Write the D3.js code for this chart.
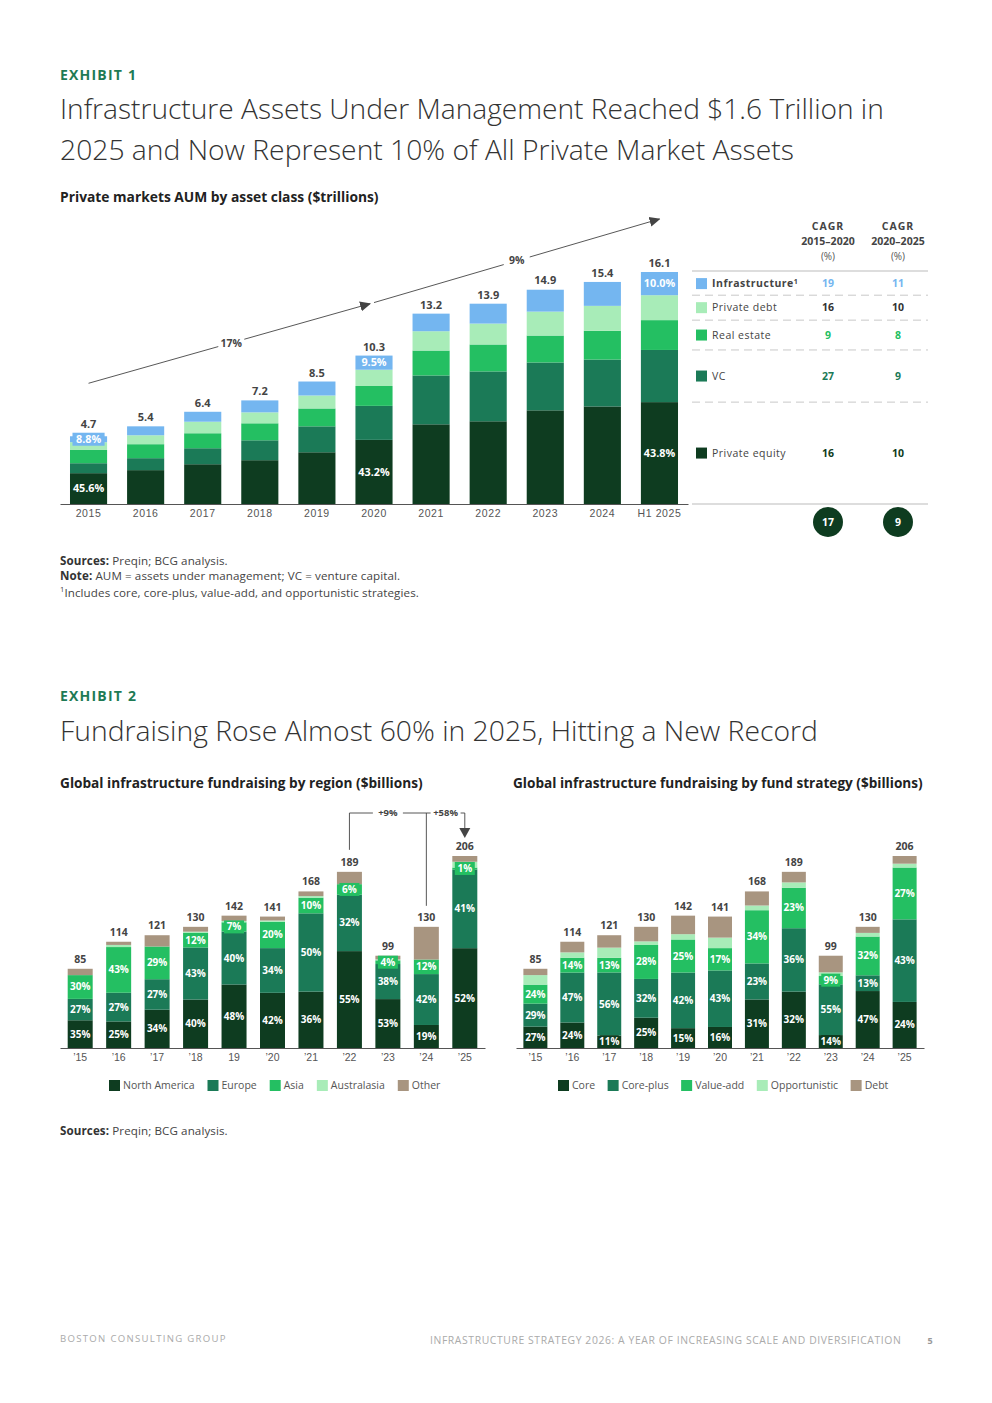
<!DOCTYPE html>
<html>
<head>
<meta charset="utf-8">
<script src="https://cdn.jsdelivr.net/npm/d3@7"></script>
<style>
    body { margin: 0; background: #fff; }
    svg { display: block; font-family: "Open Sans", "Noto Sans", sans-serif; }
</style>
</head>
<body>
<div id="page"></div>
<script>
// ---------- Exhibit 1: private markets AUM ($T) ----------
const aumYears = ['2015', '2016', '2017', '2018', '2019', '2020', '2021', '2022', '2023', '2024', 'H1 2025'];
const aumTotals = [4.7, 5.4, 6.4, 7.2, 8.5, 10.3, 13.2, 13.9, 14.9, 15.4, 16.1];
const aumPrivateEquity = [2.14, 2.35, 2.76, 3.04, 3.59, 4.45, 5.53, 5.74, 6.50, 6.77, 7.07];
const aumVC = [0.69, 0.83, 1.11, 1.38, 1.80, 2.36, 3.39, 3.46, 3.32, 3.25, 3.62];
const aumRealEstate = [0.92, 0.97, 1.04, 1.18, 1.24, 1.38, 1.73, 1.87, 1.87, 2.00, 2.07];
const aumPrivateDebt = [0.54, 0.62, 0.80, 0.76, 0.90, 1.13, 1.34, 1.45, 1.66, 1.73, 1.73];
const aumInfrastructure = [0.41, 0.62, 0.69, 0.83, 0.97, 0.98, 1.22, 1.38, 1.52, 1.66, 1.61];
const infraShareLabels = ['8.8%', null, null, null, null, '9.5%', null, null, null, null, '10.0%'];
const peShareLabels = ['45.6%', null, null, null, null, '43.2%', null, null, null, null, '43.8%'];
const aumGrowthLabels = ['17%', '9%'];

const cagrClasses = ['Infrastructure', 'Private debt', 'Real estate', 'VC', 'Private equity'];
const cagr2015to2020 = [19, 16, 9, 27, 16];
const cagr2020to2025 = [11, 10, 8, 9, 10];
const cagrTotals = [17, 9];

// ---------- Exhibit 2: fundraising ($B) ----------
const fundTicksRegion = ['\u201915', '\u201916', '\u201917', '\u201918', '19', '\u201920', '\u201921', '\u201922', '\u201923', '\u201924', '\u201925'];
const fundTicksStrategy = ['\u201915', '\u201916', '\u201917', '\u201918', '\u201919', '\u201920', '\u201921', '\u201922', '\u201923', '\u201924', '\u201925'];
const fundTotals = [85, 114, 121, 130, 142, 141, 168, 189, 99, 130, 206];

// share of each year's total, %
const regionNorthAmerica = [35, 25, 34, 40, 48, 42, 36, 55, 53, 19, 52];
const regionEurope = [27, 27, 27, 43, 40, 34, 50, 32, 38, 42, 41];
const regionAsia = [30, 43, 29, 12, 7, 20, 10, 6, 4, 12, 1];
const regionAustralasia = [0, 2, 0, 1, 1, 1, 1, 0, 1, 0, 3];
const regionOther = [8, 3, 10, 4, 4, 3, 3, 7, 4, 27, 3];

const strategyCore = [27, 24, 11, 25, 15, 16, 31, 32, 14, 47, 24];
const strategyCorePlus = [29, 47, 56, 32, 42, 43, 23, 36, 55, 13, 43];
const strategyValueAdd = [24, 14, 13, 28, 25, 17, 34, 23, 9, 32, 27];
const strategyOpportunistic = [12, 5, 9, 3, 4, 8, 3, 3, 4, 3, 2];
const strategyDebt = [8, 10, 11, 12, 14, 16, 9, 6, 18, 5, 4];
const fundGrowthLabels = ['+9%', '+58%'];

// colours
const C = {
    dark: '#0e3c20',
    mid: '#1b7a57',
    bright: '#24bf62',
    light: '#a8ecb8',
    blue: '#74b6f0',
    tan: '#a89580',
    green: '#1e7a55',
    text: '#333',
    grey: '#555'
};

const W = 992, H = 1403;
const svg = d3.select('#page').append('svg')
    .attr('width', W)
    .attr('height', H)
    .style('background', '#fff');

// scale font so a text spans a given width
const fitWidth = (sel, width) => {
    const w = sel.node().getComputedTextLength();
    const fs = parseFloat(sel.attr('font-size'));
    sel.attr('font-size', fs * width / w);
    return sel;
};

const addText = (x, y, txt, o = {}) => svg.append('text')
    .attr('x', x)
    .attr('y', y)
    .attr('font-size', o.size || 11)
    .attr('font-weight', o.weight || 400)
    .attr('fill', o.fill || C.text)
    .attr('text-anchor', o.anchor || 'start')
    .attr('letter-spacing', o.ls || 0)
    .text(txt);

const LABEL_BOX = 13; // min height of a label box on thin segments

// ================= Headers =================
addText(60, 80, 'EXHIBIT 1', { size: 14, weight: 700, fill: C.green, ls: 1.2 });
fitWidth(addText(60, 119, 'Infrastructure Assets Under Management Reached $1.6 Trillion in', { size: 27, weight: 300, fill: '#333' }), 824);
fitWidth(addText(60, 160, '2025 and Now Represent 10% of All Private Market Assets', { size: 27, weight: 300, fill: '#333' }), 734);
fitWidth(addText(60, 202, 'Private markets AUM by asset class ($trillions)', { size: 12.5, weight: 700, fill: '#222' }), 319);

// ================= Exhibit 1 chart =================
const x1 = d3.scaleBand()
    .domain(aumYears)
    .range([60, 688])
    .paddingInner(0.35)
    .paddingOuter(0.175);

const y1 = d3.scaleLinear()
    .domain([0, 16.1])
    .range([504, 272]);

const aumKeys = ['pe', 'vc', 're', 'pd', 'infra'];
const aumColors = { pe: C.dark, vc: C.mid, re: C.bright, pd: C.light, infra: C.blue };
const aumRows = aumYears.map((yr, i) => ({
    year: yr,
    pe: aumPrivateEquity[i],
    vc: aumVC[i],
    re: aumRealEstate[i],
    pd: aumPrivateDebt[i],
    infra: aumInfrastructure[i]
}));
const aumStack = d3.stack().keys(aumKeys)(aumRows);

const g1 = svg.append('g');
g1.selectAll('g.layer')
    .data(aumStack)
    .join('g')
    .attr('class', 'layer')
    .attr('fill', d => aumColors[d.key])
    .selectAll('rect')
    .data(d => d)
    .join('rect')
    .attr('x', d => x1(d.data.year))
    .attr('y', d => y1(d[1]))
    .attr('width', x1.bandwidth())
    .attr('height', d => y1(d[0]) - y1(d[1]));

// axis
const xAxis1 = svg.append('g')
    .attr('transform', 'translate(0,504)')
    .call(d3.axisBottom(x1).tickSize(0).tickPadding(6));
xAxis1.select('.domain').attr('stroke', '#555').attr('stroke-width', 1);
xAxis1.selectAll('text')
    .attr('font-size', 10.5)
    .attr('fill', C.grey)
    .attr('letter-spacing', 0.6)
    .attr('font-family', 'inherit');

// totals (lifted when a label box pokes above the bar)
svg.append('g').selectAll('text')
    .data(aumTotals)
    .join('text')
    .attr('x', (d, i) => x1(aumYears[i]) + x1.bandwidth() / 2)
    .attr('y', (d, i) => {
        const seg = aumStack[4][i];
        const h = y1(seg[0]) - y1(seg[1]);
        const lift = infraShareLabels[i] && h < LABEL_BOX ? (LABEL_BOX - h) / 2 : 0;
        return y1(d) - 5 - lift;
    })
    .attr('text-anchor', 'middle')
    .attr('font-size', 11)
    .attr('font-weight', 700)
    .attr('fill', '#444')
    .text(d => d.toFixed(1));

// in-bar share labels
const segLabel = (g, x, y0, y1v, bw, color, txt, size) => {
    const h = y0 - y1v;
    const cy = (y0 + y1v) / 2;
    if (h < LABEL_BOX) {
        g.append('rect')
            .attr('x', x + 2.5)
            .attr('y', cy - LABEL_BOX / 2)
            .attr('width', bw - 5)
            .attr('height', LABEL_BOX)
            .attr('fill', color);
    }
    g.append('text')
        .attr('x', x + bw / 2)
        .attr('y', cy)
        .attr('dy', '0.35em')
        .attr('text-anchor', 'middle')
        .attr('font-size', size)
        .attr('font-weight', 700)
        .attr('fill', '#fff')
        .text(txt);
};

const lab1 = svg.append('g');
aumRows.forEach((r, i) => {
    const infraLayer = aumStack[4][i];
    const peLayer = aumStack[0][i];
    if (infraShareLabels[i]) {
        segLabel(lab1, x1(r.year), y1(infraLayer[0]), y1(infraLayer[1]), x1.bandwidth(), C.blue, infraShareLabels[i], 10.8);
    }
    if (peShareLabels[i]) {
        segLabel(lab1, x1(r.year), y1(peLayer[0]), y1(peLayer[1]), x1.bandwidth(), C.dark, peShareLabels[i], 10.8);
    }
});

// growth arrows
const defs = svg.append('defs');
defs.append('marker')
    .attr('id', 'arr')
    .attr('viewBox', '0 0 10 10')
    .attr('refX', 9)
    .attr('refY', 5)
    .attr('markerWidth', 11)
    .attr('markerHeight', 11)
    .attr('markerUnits', 'userSpaceOnUse')
    .attr('orient', 'auto')
    .append('path')
    .attr('d', 'M0,0.5 L10,5 L0,9.5 Z')
    .attr('fill', '#444');

const cx1 = i => x1(aumYears[i]) + x1.bandwidth() / 2;
const arrowPts = [0, 5, 10].map(i => [cx1(i), y1(aumTotals[i]) - 53]);
const arrows = svg.append('g');
[[arrowPts[0], arrowPts[1]], [arrowPts[1], arrowPts[2]]].forEach((seg, k) => {
    arrows.append('line')
        .attr('x1', seg[0][0])
        .attr('y1', seg[0][1])
        .attr('x2', seg[1][0] - (k === 0 ? 4 : 0))
        .attr('y2', seg[1][1] + (k === 0 ? 1.1 : 0))
        .attr('stroke', '#444')
        .attr('stroke-width', 0.9)
        .attr('marker-end', 'url(#arr)');
    const mx = (seg[0][0] + seg[1][0]) / 2;
    const my = (seg[0][1] + seg[1][1]) / 2;
    arrows.append('rect')
        .attr('x', mx - 13)
        .attr('y', my - 8)
        .attr('width', 26)
        .attr('height', 16)
        .attr('fill', '#fff');
    arrows.append('text')
        .attr('x', mx)
        .attr('y', my)
        .attr('dy', '0.35em')
        .attr('text-anchor', 'middle')
        .attr('font-size', 10.5)
        .attr('font-weight', 700)
        .attr('fill', '#444')
        .text(aumGrowthLabels[k]);
});

// ---------- CAGR table ----------
const colX = [828, 898];
const tbl = svg.append('g');
['2015\u20132020', '2020\u20132025'].forEach((p, k) => {
    tbl.append('text').attr('x', colX[k]).attr('y', 230).attr('text-anchor', 'middle')
        .attr('font-size', 10.5).attr('font-weight', 700).attr('fill', '#444').attr('letter-spacing', 1).text('CAGR');
    tbl.append('text').attr('x', colX[k]).attr('y', 245).attr('text-anchor', 'middle')
        .attr('font-size', 10.5).attr('font-weight', 700).attr('fill', '#444').text(p);
    tbl.append('text').attr('x', colX[k]).attr('y', 260).attr('text-anchor', 'middle')
        .attr('font-size', 10).attr('fill', '#555').text('(%)');
});
tbl.append('line').attr('x1', 692).attr('x2', 928).attr('y1', 271).attr('y2', 271)
    .attr('stroke', '#bbb').attr('stroke-width', 1);

// rows line up with the segments of the last bar
const lastIdx = aumYears.length - 1;
const rowBands = [4, 3, 2, 1, 0].map(li => [y1(aumStack[li][lastIdx][1]), y1(aumStack[li][lastIdx][0])]);
const rowColors = [C.blue, C.light, C.bright, C.mid, C.dark];
const valColors = ['#74b6f0', '#333', '#24bf62', '#1b7a57', '#0e3c20'];
cagrClasses.forEach((name, r) => {
    const [top, bot] = rowBands[r];
    const cy = (top + bot) / 2;
    tbl.append('rect').attr('x', 696).attr('y', cy - 5.5).attr('width', 11).attr('height', 11).attr('fill', rowColors[r]);
    const t = tbl.append('text').attr('x', 712).attr('y', cy).attr('dy', '0.35em')
        .attr('font-size', 10.5).attr('fill', '#444').attr('letter-spacing', 0.5)
        .attr('font-weight', r === 0 ? 700 : 400).text(name);
    if (r === 0) t.append('tspan').attr('font-size', 7).attr('dy', '-0.5em').text('1');
    [cagr2015to2020[r], cagr2020to2025[r]].forEach((v, k) => {
        tbl.append('text').attr('x', colX[k]).attr('y', cy).attr('dy', '0.35em').attr('text-anchor', 'middle')
            .attr('font-size', 10.5).attr('font-weight', 700).attr('fill', valColors[r]).text(v);
    });
    if (r < cagrClasses.length - 1) {
        tbl.append('line').attr('x1', 692).attr('x2', 928).attr('y1', bot).attr('y2', bot)
            .attr('stroke', '#c8c8c8').attr('stroke-width', 1).attr('stroke-dasharray', '8,5');
    }
});
tbl.append('line').attr('x1', 692).attr('x2', 928).attr('y1', 504).attr('y2', 504)
    .attr('stroke', '#bbb').attr('stroke-width', 1);
cagrTotals.forEach((v, k) => {
    tbl.append('circle').attr('cx', colX[k]).attr('cy', 522).attr('r', 15).attr('fill', C.dark);
    tbl.append('text').attr('x', colX[k]).attr('y', 522).attr('dy', '0.35em').attr('text-anchor', 'middle')
        .attr('font-size', 10.5).attr('font-weight', 700).attr('fill', '#fff').text(v);
});

// notes
const noteSize = 11.6;
const note = (y, bold, rest) => {
    const t = addText(60, y, '', { size: noteSize, fill: '#444', ls: 0.1 });
    if (bold) t.append('tspan').attr('font-weight', 700).attr('fill', '#333').text(bold);
    t.append('tspan').text(rest);
    return t;
};
note(565, 'Sources: ', 'Preqin; BCG analysis.');
note(580, 'Note: ', 'AUM = assets under management; VC = venture capital.');
const fn = note(595, null, '');
fn.text('');
fn.append('tspan').attr('font-size', 7.5).attr('dy', '-0.4em').text('1');
fn.append('tspan').attr('dy', '0.4em').text('Includes core, core-plus, value-add, and opportunistic strategies.');

// ================= Exhibit 2 =================
addText(60, 701, 'EXHIBIT 2', { size: 14, weight: 700, fill: C.green, ls: 1.2 });
fitWidth(addText(60, 741, 'Fundraising Rose Almost 60% in 2025, Hitting a New Record', { size: 27, weight: 300, fill: '#333' }), 758);
fitWidth(addText(60, 788, 'Global infrastructure fundraising by region ($billions)', { size: 12.5, weight: 700, fill: '#222' }), 363);
fitWidth(addText(513, 788, 'Global infrastructure fundraising by fund strategy ($billions)', { size: 12.5, weight: 700, fill: '#222' }), 410);

const y2 = d3.scaleLinear().domain([0, 206]).range([1048, 856]);

const drawFundChart = (opts) => {
    const { range, ticks, keys, shares, colors, labelKeys, legend, legendX, legendGap } = opts;
    const x = d3.scaleBand()
        .domain(ticks)
        .range(range)
        .paddingInner(0.35)
        .paddingOuter(0.2);

    const rows = ticks.map((t, i) => {
        const o = { tick: t, total: fundTotals[i] };
        keys.forEach((k, j) => { o[k] = fundTotals[i] * shares[j][i] / 100; o[k + 'Pct'] = shares[j][i]; });
        return o;
    });
    const stack = d3.stack().keys(keys)(rows);
    const g = svg.append('g');

    g.selectAll('g.layer')
        .data(stack)
        .join('g')
        .attr('fill', (d, j) => colors[j])
        .selectAll('rect')
        .data(d => d)
        .join('rect')
        .attr('x', d => x(d.data.tick))
        .attr('y', d => y2(d[1]))
        .attr('width', x.bandwidth())
        .attr('height', d => y2(d[0]) - y2(d[1]));

    // share labels
    stack.forEach((layer, j) => {
        if (!labelKeys.includes(layer.key)) return;
        layer.forEach(d => {
            segLabel(g, x(d.data.tick), y2(d[0]), y2(d[1]), x.bandwidth(), colors[j], d.data[layer.key + 'Pct'] + '%', 10);
        });
    });

    // totals
    g.selectAll('text.total')
        .data(rows)
        .join('text')
        .attr('class', 'total')
        .attr('x', d => x(d.tick) + x.bandwidth() / 2)
        .attr('y', d => y2(d.total) - 6)
        .attr('text-anchor', 'middle')
        .attr('font-size', 10.5)
        .attr('font-weight', 700)
        .attr('fill', '#444')
        .text(d => d.total);

    const ax = svg.append('g')
        .attr('transform', 'translate(0,1048)')
        .call(d3.axisBottom(x).tickSize(0).tickPadding(6));
    ax.select('.domain').attr('stroke', '#555');
    ax.selectAll('text')
        .attr('font-size', 10.5)
        .attr('fill', C.grey)
        .attr('font-family', 'inherit');

    // legend
    let lx = legendX;
    legend.forEach((name, j) => {
        g.append('rect').attr('x', lx).attr('y', 1080).attr('width', 11).attr('height', 11).attr('fill', colors[j]);
        const t = g.append('text').attr('x', lx + 14).attr('y', 1089).attr('font-size', 10.5)
            .attr('fill', C.grey).attr('letter-spacing', 0).text(name);
        lx += 14 + t.node().getComputedTextLength() + legendGap;
    });
    return x;
};

const fiveColors = [C.dark, C.mid, C.bright, C.light, C.tan];

const xr = drawFundChart({
    range: [60, 485],
    ticks: fundTicksRegion,
    keys: ['na', 'eu', 'asia', 'aus', 'other'],
    shares: [regionNorthAmerica, regionEurope, regionAsia, regionAustralasia, regionOther],
    colors: fiveColors,
    labelKeys: ['na', 'eu', 'asia'],
    legend: ['North America', 'Europe', 'Asia', 'Australasia', 'Other'],
    legendX: 109,
    legendGap: 13
});

drawFundChart({
    range: [516, 924],
    ticks: fundTicksStrategy,
    keys: ['core', 'coreplus', 'va', 'opp', 'debt'],
    shares: [strategyCore, strategyCorePlus, strategyValueAdd, strategyOpportunistic, strategyDebt],
    colors: fiveColors,
    labelKeys: ['core', 'coreplus', 'va'],
    legend: ['Core', 'Core-plus', 'Value-add', 'Opportunistic', 'Debt'],
    legendX: 558,
    legendGap: 12.5
});

// growth connector on the region chart
const cxr = i => xr(fundTicksRegion[i]) + xr.bandwidth() / 2;
const topY = y2(fundTotals[10]) - 43;
const conn = svg.append('g').attr('stroke', '#444').attr('stroke-width', 0.9).attr('fill', 'none');
conn.append('path')
    .attr('d', `M${cxr(7)},${y2(fundTotals[7]) - 22} V${topY} H${cxr(10)} V${y2(fundTotals[10]) - 27}`);
conn.append('line')
    .attr('x1', cxr(9)).attr('x2', cxr(9))
    .attr('y1', topY).attr('y2', y2(fundTotals[9]) - 21);
svg.append('path')
    .attr('d', `M${cxr(10) - 5.5},${y2(fundTotals[10]) - 28} L${cxr(10) + 5.5},${y2(fundTotals[10]) - 28} L${cxr(10)},${y2(fundTotals[10]) - 18} Z`)
    .attr('fill', '#444');
[[7, 9], [9, 10]].forEach((p, k) => {
    const mx = (cxr(p[0]) + cxr(p[1])) / 2;
    svg.append('rect').attr('x', mx - 15).attr('y', topY - 6).attr('width', 30).attr('height', 12).attr('fill', '#fff');
    svg.append('text').attr('x', mx).attr('y', topY).attr('dy', '0.35em').attr('text-anchor', 'middle')
        .attr('font-size', 9.5).attr('font-weight', 700).attr('fill', '#444').text(fundGrowthLabels[k]);
});

note(1135, 'Sources: ', 'Preqin; BCG analysis.');

// ================= Footer =================
fitWidth(addText(60, 1342, 'BOSTON CONSULTING GROUP', { size: 9, fill: '#aaa', ls: 1.3 }), 169);
fitWidth(addText(430, 1344, 'INFRASTRUCTURE STRATEGY 2026: A YEAR OF INCREASING SCALE AND DIVERSIFICATION', { size: 9, fill: '#aaa', ls: 0.6 }), 479);
addText(930, 1344, '5', { size: 9, fill: '#999', weight: 700, anchor: 'middle' });
</script>
</body>
</html>
